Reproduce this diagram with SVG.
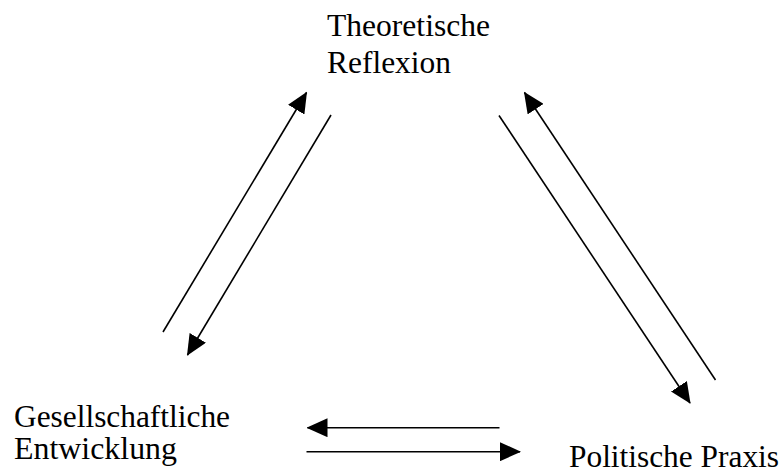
<svg xmlns="http://www.w3.org/2000/svg" width="784" height="470" viewBox="0 0 784 470">
<style>
.lbl{font-family:"Liberation Serif","Times New Roman",serif;font-size:31.5px;fill:#000}
.con line{stroke:#000;stroke-width:1.6;fill:none}
</style>
<defs>
<marker id="ah" markerUnits="userSpaceOnUse" markerWidth="21" markerHeight="19" refX="20" refY="9.5" orient="auto" viewBox="0 0 21 19">
<path d="M0,0 L21,9.5 L0,19 z" fill="#000"/>
</marker>
</defs>
<rect width="784" height="470" fill="#fff"/>
<g id="theoretische-reflexion">
<text class="lbl" x="327" y="36" textLength="163" lengthAdjust="spacingAndGlyphs">Theoretische</text>
<text class="lbl" x="327" y="73" textLength="124" lengthAdjust="spacingAndGlyphs">Reflexion</text>
</g>
<g id="gesellschaftliche-entwicklung">
<text class="lbl" x="14" y="427" textLength="216" lengthAdjust="spacingAndGlyphs">Gesellschaftliche</text>
<text class="lbl" x="14" y="459" textLength="163" lengthAdjust="spacingAndGlyphs">Entwicklung</text>
</g>
<g id="politische-praxis">
<text class="lbl" x="569" y="466.5" textLength="210" lengthAdjust="spacingAndGlyphs">Politische Praxis</text>
</g>
<g class="con" id="connectors">
<line x1="163" y1="332" x2="306.5" y2="92.5" marker-end="url(#ah)"/>
<line x1="331" y1="115" x2="187.5" y2="355" marker-end="url(#ah)"/>
<line x1="499" y1="115.5" x2="690" y2="403" marker-end="url(#ah)"/>
<line x1="715.5" y1="380" x2="524.5" y2="92.5" marker-end="url(#ah)"/>
<line x1="499.5" y1="427.7" x2="307.5" y2="427.7" marker-end="url(#ah)"/>
<line x1="306.5" y1="451.7" x2="520" y2="451.7" marker-end="url(#ah)"/>
</g>
</svg>
